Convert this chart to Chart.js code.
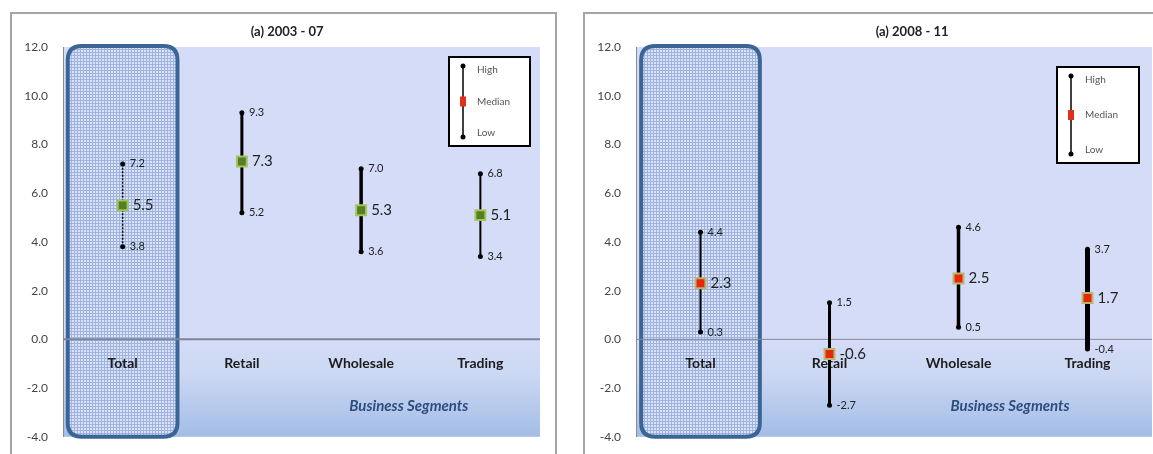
<!DOCTYPE html>
<html>
<head>
<meta charset="utf-8">
<script src="https://cdn.jsdelivr.net/npm/chart.js@4.4.1/dist/chart.umd.min.js"></script>
<style>
body { margin: 0; width: 1153px; height: 454px; overflow: hidden; background: #fff; position: relative; }
.panel { position: absolute; top: 12px; border: 2px solid #a5a5a5; background: #fff; }
#p1 { left: 10px; width: 543px; height: 460px; }
#p2 { left: 583px; width: 600px; height: 460px; }
canvas { display: block; }
</style>
</head>
<body>
<div class="panel" id="p1"><canvas id="chart1" width="543" height="445"></canvas></div>
<div class="panel" id="p2"><canvas id="chart2" width="580" height="445"></canvas></div>

<script>
/* ============= Data: ============= */
var categories = ['Total', 'Retail', 'Wholesale', 'Trading'];
var yMin = -4;
var yMax = 12;
var yStep = 2;

var title0307 = '(a) 2003 - 07';
var high0307 = [7.2, 9.3, 7.0, 6.8];
var median0307 = [5.5, 7.3, 5.3, 5.1];
var low0307 = [3.8, 5.2, 3.6, 3.4];

var title0811 = '(a) 2008 - 11';
var high0811 = [4.4, 1.5, 4.6, 3.7];
var median0811 = [2.3, -0.6, 2.5, 1.7];
var low0811 = [0.3, -2.7, 0.5, -0.4];

var legendLabels = ['High', 'Median', 'Low'];
var axisTitle = 'Business Segments';

/* ============= Styles: ============= */
var fontName = 'Lato, "Open Sans", sans-serif';

var panel1 = {
	title: title0307, high: high0307, median: median0307, low: low0307,
	titleFrac: 0.47,
	lineWidths: [1.5, 3, 3.5, 2],
	lineDash: [[2, 1.5], [], [], []],
	medianFill: '#557f24', medianBorder: '#a4c45e',
	zeroWidth: 2, zeroColor: '#7b8595',
	legendBox: { right: 10, top: 10, w: 81, h: 89 },
	padRight: 15
};

var panel2 = {
	title: title0811, high: high0811, median: median0811, low: low0811,
	titleFrac: 0.535,
	lineWidths: [2, 3, 3.5, 5],
	lineDash: [[], [], [], []],
	medianFill: '#e8260e', medianBorder: '#b9b56a',
	zeroWidth: 1, zeroColor: '#858a93',
	legendBox: { right: 13, top: 20, w: 82, h: 96 },
	padRight: 13
};

/* ============= Functions: ============= */
function dotPattern(ctx) {
	var c = document.createElement('canvas');
	c.width = 3;
	c.height = 3;
	var p = c.getContext('2d');
	p.fillStyle = '#9fb3de';
	p.fillRect(0, 0, 3, 3);
	p.fillStyle = '#d9e2f7';
	p.fillRect(0, 0, 2, 2);
	return ctx.createPattern(c, 'repeat');
}

function roundRect(ctx, x, y, w, h, r) {
	ctx.beginPath();
	ctx.moveTo(x + r, y);
	ctx.lineTo(x + w - r, y);
	ctx.quadraticCurveTo(x + w, y, x + w, y + r);
	ctx.lineTo(x + w, y + h - r);
	ctx.quadraticCurveTo(x + w, y + h, x + w - r, y + h);
	ctx.lineTo(x + r, y + h);
	ctx.quadraticCurveTo(x, y + h, x, y + h - r);
	ctx.lineTo(x, y + r);
	ctx.quadraticCurveTo(x, y, x + r, y);
	ctx.closePath();
}

function makeDecor(panel) {
	return {
		id: 'decor',
		beforeDraw: function(chart) {
			var ctx = chart.ctx;
			var a = chart.chartArea;
			var zeroY = chart.scales.y.getPixelForValue(0);
			ctx.save();
			ctx.fillStyle = '#d5dcf7';
			ctx.fillRect(a.left, a.top, a.right - a.left, zeroY - a.top);
			var g = ctx.createLinearGradient(0, zeroY, 0, a.bottom);
			g.addColorStop(0, '#d5dcf7');
			g.addColorStop(0.35, '#ccd8f3');
			g.addColorStop(1, '#a3bde6');
			ctx.fillStyle = g;
			ctx.fillRect(a.left, zeroY, a.right - a.left, a.bottom - zeroY);
			ctx.restore();
		},
		beforeDatasetsDraw: function(chart) {
			var ctx = chart.ctx;
			var a = chart.chartArea;
			var xs = chart.scales.x;
			var ys = chart.scales.y;
			var zeroY = ys.getPixelForValue(0);
			var band = (a.right - a.left) / categories.length;

			// highlight round the Total column
			var cx = xs.getPixelForValue(0);
			var hw = band * 0.46;
			ctx.save();
			roundRect(ctx, cx - hw, a.top - 1, hw * 2, a.bottom - a.top + 1, 14);
			ctx.fillStyle = dotPattern(ctx);
			ctx.fill();
			ctx.lineWidth = 4;
			ctx.strokeStyle = '#3a6595';
			ctx.stroke();

			// zero line
			ctx.beginPath();
			ctx.moveTo(a.left, zeroY);
			ctx.lineTo(a.right, zeroY);
			ctx.lineWidth = panel.zeroWidth;
			ctx.strokeStyle = panel.zeroColor;
			ctx.stroke();

			// category labels inside the plot
			ctx.fillStyle = '#1c1c1c';
			ctx.font = 'bold 14px ' + fontName;
			ctx.textAlign = 'center';
			ctx.textBaseline = 'middle';
			for (var i = 0; i < categories.length; i++) {
				ctx.fillText(categories[i], xs.getPixelForValue(i), ys.getPixelForValue(-1.0));
			}

			// axis title
			ctx.fillStyle = '#2c4d7e';
			ctx.font = 'italic bold 15px ' + fontName;
			ctx.fillText(axisTitle, xs.getPixelForValue(2.4), ys.getPixelForValue(-2.75));

			// chart title
			ctx.fillStyle = '#222';
			ctx.font = 'bold 13px ' + fontName;
			ctx.fillText(panel.title, a.left + (a.right - a.left) * panel.titleFrac, 18);
			ctx.restore();
		},
		afterDatasetsDraw: function(chart) {
			var ctx = chart.ctx;
			var a = chart.chartArea;
			var xs = chart.scales.x;
			var ys = chart.scales.y;
			ctx.save();
			ctx.textAlign = 'left';
			ctx.textBaseline = 'middle';
			ctx.fillStyle = '#222';
			for (var i = 0; i < categories.length; i++) {
				var x = xs.getPixelForValue(i);
				ctx.font = '11px ' + fontName;
				ctx.fillText(panel.high[i].toFixed(1), x + 7, ys.getPixelForValue(panel.high[i]));
				ctx.fillText(panel.low[i].toFixed(1), x + 7, ys.getPixelForValue(panel.low[i]));
				ctx.font = '15px ' + fontName;
				ctx.fillText(panel.median[i].toFixed(1), x + 10, ys.getPixelForValue(panel.median[i]));
			}

			// legend box
			var lb = panel.legendBox;
			var bx = a.right - lb.right - lb.w;
			var by = a.top + lb.top;
			ctx.fillStyle = '#fff';
			ctx.fillRect(bx, by, lb.w, lb.h);
			ctx.lineWidth = 2;
			ctx.strokeStyle = '#000';
			ctx.strokeRect(bx, by, lb.w, lb.h);
			var lx = bx + 14;
			var top = by + 9;
			var bot = by + lb.h - 9;
			var mid = (top + bot) / 2;
			ctx.beginPath();
			ctx.moveTo(lx, top);
			ctx.lineTo(lx, bot);
			ctx.lineWidth = 1.5;
			ctx.stroke();
			ctx.fillStyle = '#000';
			ctx.beginPath();
			ctx.arc(lx, top, 2.5, 0, Math.PI * 2);
			ctx.arc(lx, bot, 2.5, 0, Math.PI * 2);
			ctx.fill();
			ctx.fillStyle = '#e0301a';
			ctx.fillRect(lx - 3, mid - 5, 6, 10);
			ctx.fillStyle = '#555';
			ctx.font = '10px ' + fontName;
			ctx.fillText(legendLabels[0], bx + 28, top + 4);
			ctx.fillText(legendLabels[1], bx + 28, mid);
			ctx.fillText(legendLabels[2], bx + 28, bot - 4);
			ctx.restore();
		}
	};
}

function buildDatasets(panel) {
	var sets = [];
	for (var i = 0; i < categories.length; i++) {
		sets.push({
			data: [{ x: categories[i], y: panel.low[i] }, { x: categories[i], y: panel.high[i] }],
			borderColor: '#000',
			borderWidth: panel.lineWidths[i],
			borderDash: panel.lineDash[i],
			pointRadius: 2.5,
			pointStyle: 'circle',
			pointBackgroundColor: '#000',
			pointBorderWidth: 0,
			order: 1
		});
	}
	// medians go on top of the range lines
	sets.push({
		data: panel.median,
		showLine: false,
		pointStyle: 'rect',
		pointRadius: 7,
		pointBackgroundColor: panel.medianFill,
		pointBorderColor: panel.medianBorder,
		pointBorderWidth: 2,
		order: 0
	});
	return sets;
}

function makeChart(id, panel) {
	var ctx = document.getElementById(id).getContext('2d');
	return new Chart(ctx, {
		type: 'line',
		data: { labels: categories, datasets: buildDatasets(panel) },
		options: {
			responsive: false,
			animation: false,
			layout: { padding: { top: 33, bottom: 17, left: 0, right: panel.padRight } },
			plugins: { legend: { display: false }, tooltip: { enabled: false }, title: { display: false } },
			scales: {
				x: { type: 'category', display: false, offset: true },
				y: {
					min: yMin, max: yMax,
					afterFit: function(s) { s.width = 51; },
					grid: { display: false, drawTicks: false },
					border: { display: true, color: '#8a8a8a', width: 1 },
					ticks: {
						stepSize: yStep,
						padding: 15,
						color: '#444',
						font: { family: fontName, size: 12 },
						callback: function(v) { return Number(v).toFixed(1); }
					}
				}
			}
		},
		plugins: [makeDecor(panel)]
	});
}

/* ============= Main(): ============= */
makeChart('chart1', panel1);
makeChart('chart2', panel2);
</script>
</body>
</html>
